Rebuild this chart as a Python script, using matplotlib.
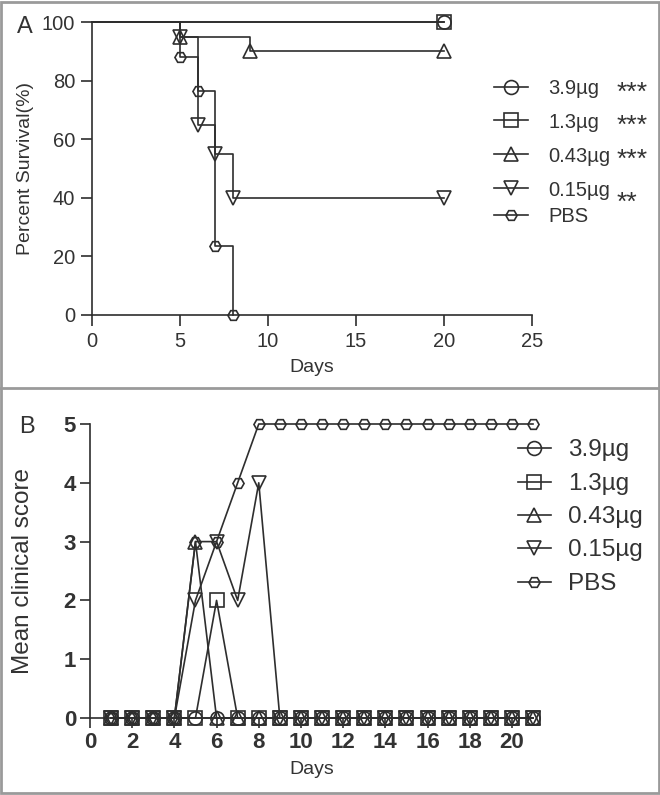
import matplotlib
matplotlib.use('Agg')
import matplotlib.pyplot as plt
from matplotlib.lines import Line2D
from matplotlib.patches import Rectangle

plt.rcParams['font.family'] = ['Liberation Sans', 'DejaVu Sans']

W, H = 660, 795
INK = '#2e2e2e'
TXT = '#333333'

groups = ['3.9µg', '1.3µg', '0.43µg', '0.15µg', 'PBS']
markers = ['o', 's', '^', 'v', 'H']
signif = ['***', '***', '***', '**', '']

# ---- Panel A: survival (Kaplan-Meier) ----
km_t_39 = [0, 20]
km_s_39 = [100, 100]
km_t_13 = [0, 20]
km_s_13 = [100, 100]
km_t_043 = [0, 5, 9, 20]
km_s_043 = [100, 95, 90, 90]
km_t_015 = [0, 5, 6, 7, 8, 20]
km_s_015 = [100, 95, 65, 55, 40, 40]
km_t_pbs = [0, 5, 6, 7, 8]
km_s_pbs = [100, 88.2, 76.5, 23.5, 0]
km_times = [km_t_39, km_t_13, km_t_043, km_t_015, km_t_pbs]
km_surv = [km_s_39, km_s_13, km_s_043, km_s_015, km_s_pbs]

# ---- Panel B: mean clinical score ----
days = list(range(1, 22))
score_39 = [0] * 21
score_13 = [0, 0, 0, 0, 0, 2, 0, 0, 0, 0, 0, 0, 0, 0, 0, 0, 0, 0, 0, 0, 0]
score_043 = [0, 0, 0, 0, 3, 0, 0, 0, 0, 0, 0, 0, 0, 0, 0, 0, 0, 0, 0, 0, 0]
score_015 = [0, 0, 0, 0, 2, 3, 2, 4, 0, 0, 0, 0, 0, 0, 0, 0, 0, 0, 0, 0, 0]
score_pbs = [0, 0, 0, 0, 3, 3, 4, 5, 5, 5, 5, 5, 5, 5, 5, 5, 5, 5, 5, 5, 5]
scores = [score_39, score_13, score_043, score_015, score_pbs]


def fx(px):
    return px / W


def fy(py):
    return 1 - py / H


fig = plt.figure(figsize=(W / 100, H / 100), dpi=100)
fig.patch.set_facecolor('white')

# border and separator
fig.add_artist(Rectangle((0.002, 0.002), 0.996, 0.996, transform=fig.transFigure,
                         fill=False, edgecolor='#9a9a9a', linewidth=2))
fig.add_artist(Line2D([0, 1], [fy(388), fy(388)], transform=fig.transFigure,
                      color='#9a9a9a', linewidth=2))

# ---------------- Panel A ----------------
axA = fig.add_axes([fx(92), fy(315), fx(532) - fx(92), fy(22) - fy(315)])
for t, s, m in zip(km_times, km_surv, markers):
    ms = 8 if m == 'H' else 9.5
    axA.step(t, s, where='post', color=INK, linewidth=1.2, clip_on=False, zorder=3)
    axA.plot(t[1:], s[1:], linestyle='none', marker=m, markersize=ms,
             markerfacecolor='none', markeredgecolor=INK, markeredgewidth=1.2,
             clip_on=False, zorder=4)
axA.set_xlim(0, 25)
axA.set_ylim(0, 100)
axA.set_xticks([0, 5, 10, 15, 20, 25])
axA.set_yticks([0, 20, 40, 60, 80, 100])
for sp in ['top', 'right']:
    axA.spines[sp].set_visible(False)
for sp in ['left', 'bottom']:
    axA.spines[sp].set_color(INK)
    axA.spines[sp].set_linewidth(1.2)
axA.tick_params(direction='out', length=8, width=1.2, color=INK,
                labelsize=14.5, labelcolor=TXT, pad=4)
axA.set_xlabel('Days', fontsize=14, color=TXT, labelpad=6)
axA.set_ylabel('Percent Survival(%)', fontsize=14, color=TXT)
axA.yaxis.set_label_coords((34 - 92) / 440, 0.5)

# legend A (manual layout)
legA_y = [87, 120, 154, 188, 215]
for g, m, st, y in zip(groups, markers, signif, legA_y):
    ms = 8 if m == 'H' else 10
    fig.add_artist(Line2D([fx(494), fx(528)], [fy(y), fy(y)], transform=fig.transFigure,
                          color=INK, linewidth=1.2))
    fig.add_artist(Line2D([fx(511)], [fy(y)], transform=fig.transFigure, linestyle='none',
                          marker=m, markersize=ms, markerfacecolor='none',
                          markeredgecolor=INK, markeredgewidth=1.2))
    fig.text(fx(548), fy(y + 2), g, fontsize=14.5, color=TXT, va='center', ha='left')
    if st:
        dy = 9 if st == '**' else 0
        fig.text(fx(617), fy(y + 6 + dy), st, fontsize=19, color=TXT, va='center', ha='left')

fig.text(fx(25), fy(27), 'A', fontsize=17, color=TXT, ha='center', va='center')

# ---------------- Panel B ----------------
axB = fig.add_axes([fx(90), fy(718), fx(533) - fx(90), fy(424) - fy(718)])
for sc, m in zip(scores, markers):
    ms = 8 if m == 'H' else 9.5
    axB.plot(days, sc, color=INK, linewidth=1.2, marker=m, markersize=ms,
             markerfacecolor='none', markeredgecolor=INK, markeredgewidth=1.2,
             clip_on=False, zorder=3)
axB.set_xlim(0, 21)
axB.set_ylim(0, 5)
axB.set_xticks(list(range(0, 21, 2)))
axB.set_yticks([0, 1, 2, 3, 4, 5])
for sp in ['top', 'right']:
    axB.spines[sp].set_visible(False)
for sp in ['left', 'bottom']:
    axB.spines[sp].set_color(INK)
    axB.spines[sp].set_linewidth(1.2)
axB.tick_params(direction='out', length=7, width=1.2, color=INK,
                labelsize=16, labelcolor=TXT, pad=3)
for lab in axB.get_xticklabels() + axB.get_yticklabels():
    lab.set_fontweight('bold')
axB.set_xlabel('Days', fontsize=14, color=TXT, labelpad=6)
axB.set_ylabel('Mean clinical score', fontsize=17.5, color=TXT)
axB.yaxis.set_label_coords((34 - 90) / 443, 0.5)

legB_y = [448, 482, 515, 548, 582]
for g, m, y in zip(groups, markers, legB_y):
    ms = 8 if m == 'H' else 10
    fig.add_artist(Line2D([fx(518), fx(551)], [fy(y), fy(y)], transform=fig.transFigure,
                          color=INK, linewidth=1.2))
    fig.add_artist(Line2D([fx(534)], [fy(y)], transform=fig.transFigure, linestyle='none',
                          marker=m, markersize=ms, markerfacecolor='none',
                          markeredgecolor=INK, markeredgewidth=1.2))
    fig.text(fx(568), fy(y + 2), g, fontsize=17.5, color=TXT, va='center', ha='left')

fig.text(fx(27), fy(427), 'B', fontsize=17, color=TXT, ha='center', va='center')

fig.savefig('out.png', dpi=100, facecolor='white')
